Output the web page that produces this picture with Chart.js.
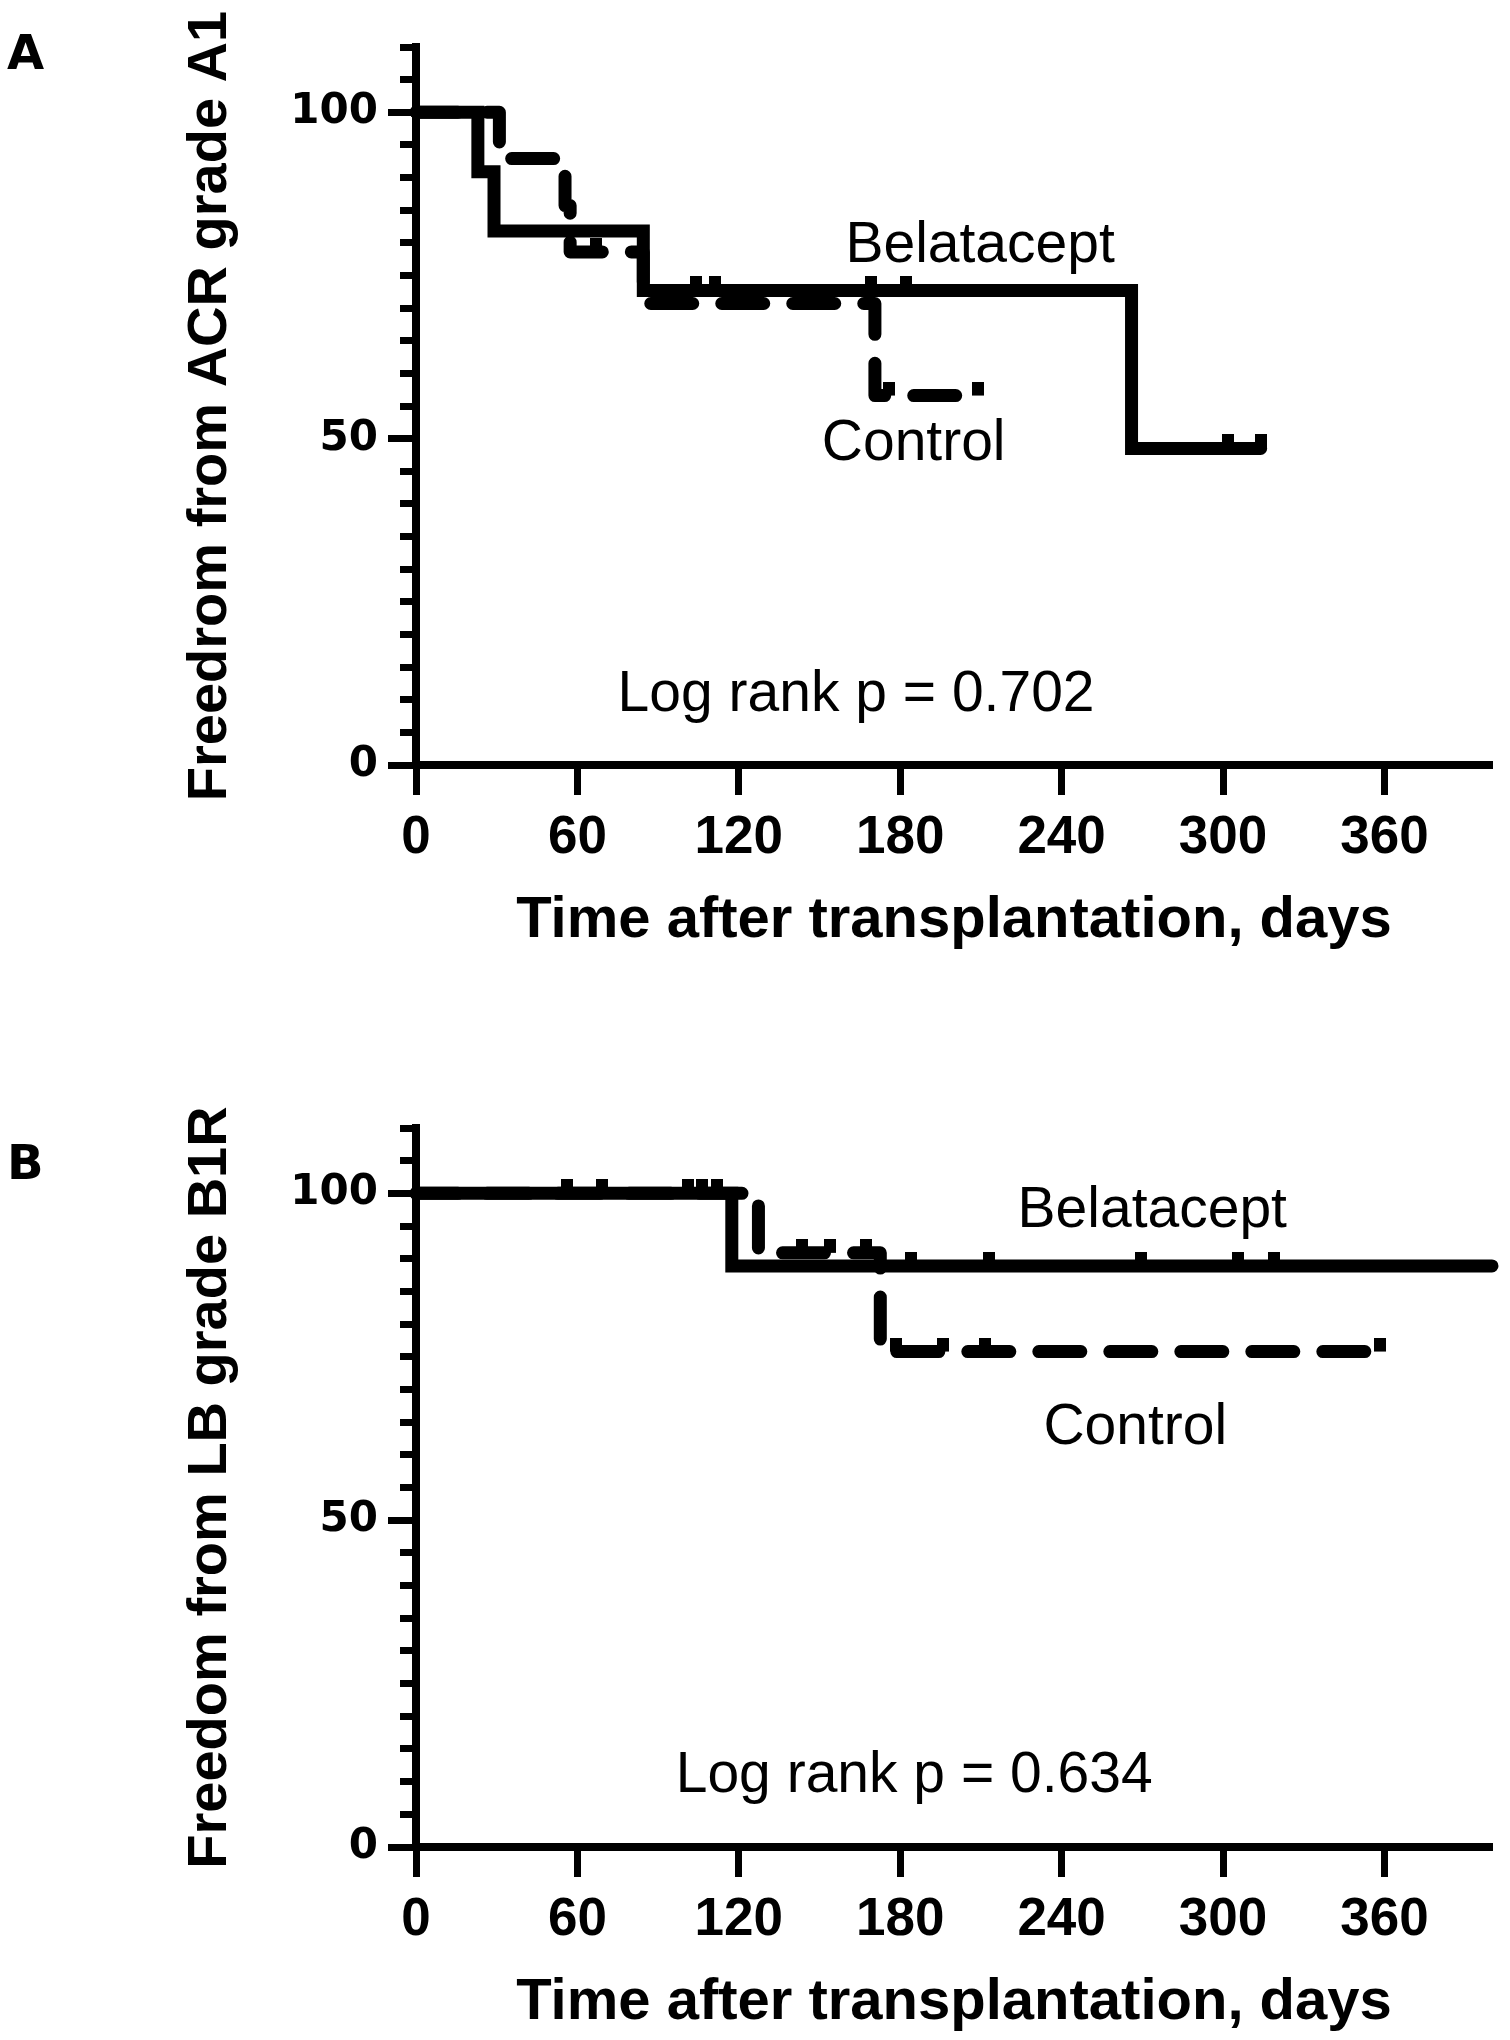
<!DOCTYPE html>
<html>
<head>
<meta charset="utf-8">
<script src="https://cdn.jsdelivr.net/npm/chart.js@4/dist/chart.umd.min.js"></script>
<style>
  body { margin: 0; background: #fff; }
  canvas { display: block; }
</style>
</head>
<body>
<canvas id="chartA" width="1510" height="1020"></canvas>
<canvas id="chartB" width="1510" height="1020"></canvas>
<script>
/* Axes */
const xTicks = [0, 60, 120, 180, 240, 300, 360];
const yTicks = [0, 5, 10, 15, 20, 25, 30, 35, 40, 45, 50, 55, 60, 65, 70, 75, 80, 85, 90, 95, 100, 105, 110];
const yLabels = [0, 50, 100];

/* Panel A : ACR grade A1 */
const aBelaTime = [0, 23, 29, 84.5, 266, 314];
const aBelaSurv = [100, 90.9, 81.8, 72.7, 48.5, 48.5];
const aBelaCensTime = [104, 111, 169, 182, 302, 314];
const aBelaCensSurv = [72.7, 72.7, 72.7, 72.7, 48.5, 48.5];
const aCtrlTime = [0, 31, 55.4, 57.3, 84.5, 170.6, 209];
const aCtrlSurv = [100, 92.9, 85.7, 78.6, 70.7, 56.6, 56.6];
const aCtrlCensTime = [67, 176, 209];
const aCtrlCensSurv = [78.6, 56.6, 56.6];

/* Panel B : LB grade B1R */
const bBelaTime = [0, 117.4, 400];
const bBelaSurv = [100, 88.9, 88.9];
const bBelaCensTime = [56.3, 69.2, 101, 106.5, 112, 184, 213, 269.4, 305.6, 318.8];
const bBelaCensSurv = [100, 100, 100, 100, 100, 88.9, 88.9, 88.9, 88.9, 88.9];
const bCtrlTime = [0, 127.3, 172.6, 358.3];
const bCtrlSurv = [100, 90.9, 75.8, 75.8];
const bCtrlCensTime = [143.5, 154, 167.2, 178.4, 196, 211.4, 358.3];
const bCtrlCensSurv = [90.9, 90.9, 90.9, 75.8, 75.8, 75.8, 75.8];

const toPoints = (xs, ys) => xs.map((x, i) => ({ x: x, y: ys[i] }));

// petit trait vertical au-dessus de la courbe (patient censuré)
const censorMark = document.createElement('canvas');
censorMark.width = 12;
censorMark.height = 28;
const cm = censorMark.getContext('2d');
cm.fillStyle = '#000';
cm.fillRect(0, 0, 12, 14);

// textes dans le graphique (Belatacept, Control, Log rank) + lettre du panneau
const notesPlugin = {
    id: 'notes',
    afterDraw(chart, args, opts) {
        const ctx = chart.ctx;
        const xs = chart.scales.x;
        const ys = chart.scales.y;
        ctx.save();
        ctx.fillStyle = '#000';
        ctx.textBaseline = 'alphabetic';
        ctx.textAlign = 'left';
        ctx.font = 'bold 48px "DejaVu Sans"';
        ctx.fillText(opts.letter, opts.letterX, opts.letterY);
        ctx.font = '57px "Liberation Sans"';
        ctx.textAlign = 'center';
        opts.notes.forEach(n => {
            ctx.fillText(n.text, xs.getPixelForValue(n.x), ys.getPixelForValue(n.y));
        });
        ctx.restore();
    }
};

function panelConfig(p) {
    return {
        type: 'line',
        data: {
            datasets: [
                { label: 'Belatacept', data: toPoints(p.belaTime, p.belaSurv), borderColor: '#000', borderWidth: 13,
                  stepped: 'before', pointRadius: 0, borderJoinStyle: 'miter', borderCapStyle: 'round', clip: false, fill: false },
                { label: 'Control', data: toPoints(p.ctrlTime, p.ctrlSurv), borderColor: '#000', borderWidth: 13,
                  stepped: 'before', pointRadius: 0, borderDash: [42, 29], borderJoinStyle: 'round', borderCapStyle: 'round', clip: false, fill: false },
                { label: 'Belatacept censored', data: toPoints(p.belaCensTime, p.belaCensSurv), showLine: false,
                  pointStyle: censorMark, pointRadius: 6, clip: false },
                { label: 'Control censored', data: toPoints(p.ctrlCensTime, p.ctrlCensSurv), showLine: false,
                  pointStyle: censorMark, pointRadius: 6, clip: false }
            ]
        },
        options: {
            responsive: false,
            animation: false,
            devicePixelRatio: 1,
            layout: { padding: { top: p.top, right: 18, left: 0, bottom: 0 } },
            plugins: {
                legend: { display: false },
                tooltip: { enabled: false },
                notes: { letter: p.letter, letterX: 7, letterY: p.letterY, notes: p.notes }
            },
            scales: {
                x: {
                    type: 'linear',
                    min: 0,
                    max: 400,
                    afterBuildTicks: s => { s.ticks = xTicks.map(v => ({ value: v })); },
                    afterFit: s => { s.height = p.xHeight; },
                    ticks: {
                        autoSkip: false, maxRotation: 0, padding: 12, color: '#000',
                        font: { family: 'Liberation Sans', size: 53, weight: 'bold', lineHeight: 1.2 }
                    },
                    grid: { drawOnChartArea: false, tickLength: 30, tickWidth: 7, tickColor: '#000' },
                    border: { color: '#000', width: 8 },
                    title: {
                        display: true, text: 'Time after transplantation, days', color: '#000',
                        font: { family: 'Liberation Sans', size: 58, weight: 'bold', lineHeight: 1.2 },
                        padding: { top: 0, bottom: p.xTitlePad }
                    }
                },
                y: {
                    type: 'linear',
                    min: 0,
                    max: 110,
                    afterBuildTicks: s => { s.ticks = yTicks.map(v => ({ value: v })); },
                    afterFit: s => { s.width = 416; },
                    ticks: {
                        autoSkip: false, padding: 10, color: '#000',
                        callback: v => yLabels.includes(v) ? String(v) : '',
                        font: { family: 'DejaVu Sans', size: 42, weight: 'bold', lineHeight: 1.2 }
                    },
                    grid: {
                        drawOnChartArea: false, tickLength: 28, tickWidth: 7, tickColor: '#000',
                        // ticks mineurs plus courts
                        tickBorderDash: c => (c.tick && yLabels.includes(c.tick.value)) ? [] : [0, 12, 40]
                    },
                    border: { color: '#000', width: 8 },
                    title: {
                        display: true, text: p.yTitle, color: '#000',
                        font: { family: 'Liberation Sans', size: 56, weight: 'bold', lineHeight: 1.2 },
                        padding: { top: 177, bottom: 0 }
                    }
                }
            }
        },
        plugins: [notesPlugin]
    };
}

new Chart(document.getElementById('chartA'), panelConfig({
    belaTime: aBelaTime, belaSurv: aBelaSurv, belaCensTime: aBelaCensTime, belaCensSurv: aBelaCensSurv,
    ctrlTime: aCtrlTime, ctrlSurv: aCtrlSurv, ctrlCensTime: aCtrlCensTime, ctrlCensSurv: aCtrlCensSurv,
    top: 47, xHeight: 255, xTitlePad: 64,
    yTitle: 'Freedrom from ACR grade A1',
    letter: 'A', letterY: 69,
    notes: [
        { text: 'Belatacept', x: 209.7, y: 77.1 },
        { text: 'Control', x: 185, y: 46.7 },
        { text: 'Log rank p = 0.702', x: 163.6, y: 8.3 }
    ]
}));

new Chart(document.getElementById('chartB'), panelConfig({
    belaTime: bBelaTime, belaSurv: bBelaSurv, belaCensTime: bBelaCensTime, belaCensSurv: bBelaCensSurv,
    ctrlTime: bCtrlTime, ctrlSurv: bCtrlSurv, ctrlCensTime: bCtrlCensTime, ctrlCensSurv: bCtrlCensSurv,
    top: 108, xHeight: 193, xTitlePad: 2,
    yTitle: 'Freedom from LB grade B1R',
    letter: 'B', letterY: 159,
    notes: [
        { text: 'Belatacept', x: 273.7, y: 94.8 },
        { text: 'Control', x: 267.4, y: 61.6 },
        { text: 'Log rank p = 0.634', x: 185.2, y: 8.4 }
    ]
}));
</script>
</body>
</html>
